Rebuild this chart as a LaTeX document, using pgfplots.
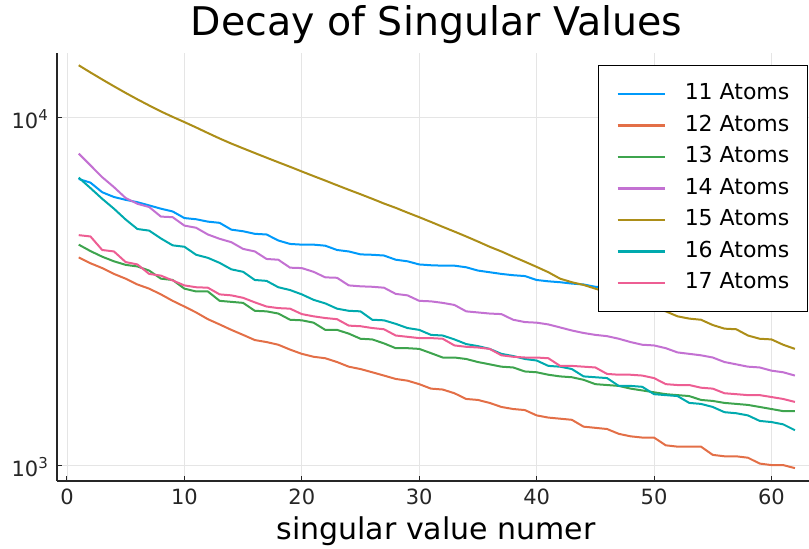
\documentclass[border=0pt]{standalone}
\usepackage{fontspec}
\setmainfont{DejaVu Sans}
\usepackage{pgfplots}
\usepackage{pgfplotstable}
\pgfplotsset{compat=1.18}

\definecolor{cA}{RGB}{0,154,250}
\definecolor{cB}{RGB}{227,111,71}
\definecolor{cC}{RGB}{62,164,78}
\definecolor{cD}{RGB}{195,113,210}
\definecolor{cE}{RGB}{172,142,24}
\definecolor{cF}{RGB}{0,170,174}
\definecolor{cG}{RGB}{237,94,147}

% singular values, one column per cluster size (11 ... 17 atoms)
\pgfplotstableread{
n  s11   s12   s13   s14   s15    s16   s17
1  6660  3960  4310  7880  14150  6720  4590
2  6500  3810  4130  7290  13490  6270  4550
3  6100  3690  3980  6740  12880  5840  4160
4  5910  3550  3860  6310  12310  5470  4120
5  5800  3440  3770  5870  11780  5090  3840
6  5710  3310  3730  5650  11290  4780  3780
7  5590  3220  3630  5530  10840  4730  3550
8  5470  3100  3440  5190  10420  4490  3510
9  5370  2970  3410  5170  10050  4290  3400
10 5140  2860  3220  4890  9710   4250  3290
11 5100  2750  3160  4820  9370   4030  3250
12 5020  2630  3160  4610  9030   3950  3240
13 4980  2540  2970  4480  8710   3820  3100
14 4760  2450  2950  4380  8420   3660  3080
15 4710  2370  2930  4190  8160   3600  3030
16 4630  2290  2780  4120  7910   3410  2940
17 4610  2260  2770  3920  7670   3390  2860
18 4430  2220  2730  3900  7440   3250  2830
19 4330  2150  2620  3700  7220   3190  2820
20 4310  2090  2610  3690  7000   3100  2720
21 4310  2050  2570  3600  6790   2990  2680
22 4280  2030  2450  3470  6590   2920  2650
23 4160  1980  2450  3460  6390   2820  2630
24 4120  1920  2390  3290  6200   2780  2520
25 4040  1890  2310  3270  6020   2770  2510
26 4030  1850  2300  3260  5840   2620  2480
27 4010  1810  2240  3240  5660   2610  2460
28 3900  1770  2170  3110  5500   2550  2360
29 3860  1750  2170  3080  5330   2480  2340
30 3780  1710  2160  2970  5170   2450  2320
31 3760  1660  2100  2960  5010   2370  2320
32 3750  1650  2040  2930  4850   2360  2310
33 3750  1610  2040  2890  4700   2300  2210
34 3710  1550  2020  2770  4550   2230  2190
35 3630  1540  1980  2750  4400   2200  2180
36 3590  1510  1950  2730  4250   2160  2160
37 3550  1470  1920  2720  4120   2090  2070
38 3520  1450  1910  2620  3980   2060  2050
39 3500  1440  1860  2580  3850   2020  2040
40 3410  1390  1850  2570  3720   2000  2040
41 3380  1370  1820  2540  3590   1930  2030
42 3360  1360  1800  2490  3440   1920  1930
43 3330  1350  1790  2440  3360   1890  1930
44 3310  1290  1760  2400  3300   1800  1920
45 3260  1280  1710  2370  3220   1790  1910
46 3240  1270  1700  2350  3140   1780  1830
47 3210  1230  1690  2310  3050   1690  1820
48 3160  1210  1660  2260  3020   1690  1820
49 3150  1200  1640  2220  2920   1680  1810
50 3110  1200  1620  2210  2830   1600  1780
51 3090  1140  1600  2170  2770   1590  1710
52 3050  1130  1590  2110  2680   1580  1700
53 3030  1130  1580  2090  2640   1510  1700
54 3000  1130  1540  2070  2620   1500  1670
55 2970  1070  1530  2040  2530   1470  1660
56 2940  1060  1510  1980  2470   1420  1610
57 2920  1060  1500  1950  2460   1410  1600
58 2900  1050  1490  1920  2360   1390  1590
59 2880  1010  1470  1910  2310   1340  1590
60 2840  1000  1450  1870  2300   1330  1570
61 2820  1000  1430  1850  2220   1310  1550
62 2790  980   1430  1810  2160   1260  1520
}\svals

\begin{document}
\begin{tikzpicture}[x=1pt,y=1pt]
\useasboundingbox (0,0) rectangle (809,549);
\begin{semilogyaxis}[
  at={(57pt,68pt)}, anchor=south west,
  scale only axis, width=752pt, height=428pt,
  xmin=-0.85, xmax=63.2, ymin=900, ymax=15350,
  axis x line=bottom, axis y line=left,
  axis line style={-, black!85, line width=1.5pt},
  xtick={0,10,...,60}, xticklabels={0,10,20,30,40,50,60},
  ytick={1000,10000},
  yticklabels={10\raisebox{8pt}{\fontsize{15}{15}\selectfont 3},10\raisebox{8pt}{\fontsize{15}{15}\selectfont 4}},
  yminorticks=false,
  xtick pos=bottom, ytick pos=left,
  tick align=inside, major tick length=5pt,
  tick style={black!85, line width=1pt},
  xmajorgrids, ymajorgrids,
  major grid style={black!10, line width=0.8pt},
  xticklabel style={font=\fontsize{21}{21}\selectfont, anchor=base, yshift=-24pt, text=black!85},
  yticklabel style={font=\fontsize{21}{21}\selectfont, anchor=base east, inner sep=0pt, xshift=-9pt, yshift=-11pt, text=black!85},
  title={Decay of Singular Values},
  title style={font=\fontsize{39.5}{39.5}\selectfont, at={(0.5,1)}, anchor=base, yshift=11pt, xshift=3.5pt, inner sep=0pt},
  xlabel={singular value numer},
  xlabel style={font=\fontsize{30}{30}\selectfont, at={(0.5,0)}, anchor=base, yshift=-59pt, xshift=3pt, inner sep=0pt},
  legend cell align=left,
  legend style={at={(0.9987,0.972)}, anchor=north east, draw=black, line width=1.3pt,
    fill=white, font=\fontsize{22}{22}\selectfont, inner sep=18pt, row sep=10.5pt,
    nodes={inner sep=0pt, text height=16pt, text depth=5pt},
    /tikz/every odd column/.append style={column sep=19pt}},
  legend image code/.code={\draw[#1, line width=2.5pt] (0pt,0pt) -- (47pt,0pt);},
  every axis plot/.append style={line width=2pt, line join=round},
]
\addplot[cA] table[x=n, y=s11] {\svals};
\addlegendentry{11 Atoms}
\addplot[cB] table[x=n, y=s12] {\svals};
\addlegendentry{12 Atoms}
\addplot[cC] table[x=n, y=s13] {\svals};
\addlegendentry{13 Atoms}
\addplot[cD] table[x=n, y=s14] {\svals};
\addlegendentry{14 Atoms}
\addplot[cE] table[x=n, y=s15] {\svals};
\addlegendentry{15 Atoms}
\addplot[cF] table[x=n, y=s16] {\svals};
\addlegendentry{16 Atoms}
\addplot[cG] table[x=n, y=s17] {\svals};
\addlegendentry{17 Atoms}
\end{semilogyaxis}
\end{tikzpicture}
\end{document}
